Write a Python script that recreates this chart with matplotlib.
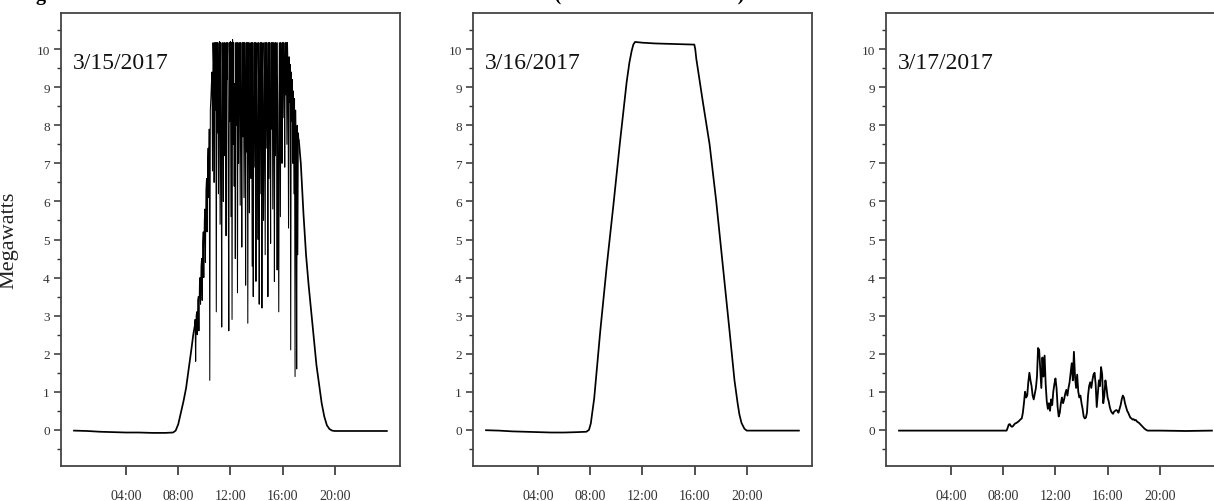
import numpy as np
import matplotlib.pyplot as plt

plt.rcParams['font.family'] = ['Liberation Serif', 'DejaVu Serif']

# ---- 3/15/2017 : clear ramps with heavy cloud spikes (hours, MW) ----
t15_am = [0, 1, 2, 3, 4, 5, 6, 7, 7.6, 7.8, 8.0, 8.2, 8.4, 8.6, 8.8, 9.0, 9.15]
v15_am = [-0.02, -0.03, -0.05, -0.06, -0.07, -0.07, -0.08, -0.08, -0.07, -0.02,
          0.15, 0.45, 0.75, 1.1, 1.6, 2.1, 2.5]
# 2.5-minute samples from 9:15 to 17:15
v15_mid = [
    2.7, 2.9, 1.8, 3.0, 3.1, 2.5, 3.4, 3.5, 2.6, 3.8, 4.0, 3.3,
    4.3, 4.5, 3.4, 4.9, 5.2, 4.0, 5.5, 5.8, 4.4, 6.3, 6.6, 5.2,
    7.0, 7.4, 6.1, 7.9, 1.3, 8.4, 8.7, 9.1, 9.4, 6.8, 10.17, 9.6,
    6.5, 10.17, 8.4, 10.17, 3.1, 10.17, 7.8, 10.17, 6.2, 9.0, 10.2, 5.4,
    10.17, 7.6, 2.7, 10.17, 8.9, 6.0, 10.17, 7.2, 10.17, 8.6, 5.1, 10.17,
    9.2, 10.17, 6.8, 2.6, 10.17, 8.1, 10.2, 5.6, 10.17, 2.9, 10.25, 7.5,
    10.17, 6.4, 9.1, 4.5, 10.17, 8.0, 10.17, 3.6, 10.17, 7.0, 9.5, 10.17,
    5.9, 10.17, 8.3, 4.8, 10.17, 7.7, 10.17, 6.1, 10.17, 8.9, 3.8, 10.17,
    7.3, 10.17, 2.8, 10.17, 8.6, 5.7, 10.17, 9.0, 6.6, 10.17, 4.3, 10.17,
    3.5, 8.2, 10.17, 6.9, 10.17, 3.9, 9.3, 10.17, 7.1, 5.0, 10.17, 3.3,
    8.8, 10.17, 6.2, 10.17, 3.2, 9.4, 10.17, 5.5, 8.1, 10.17, 4.6, 10.17,
    7.4, 10.17, 9.0, 3.5, 10.17, 6.6, 10.17, 8.4, 4.9, 10.17, 7.9, 10.17,
    5.8, 10.17, 8.7, 3.9, 10.17, 7.2, 10.17, 9.1, 4.2, 10.17, 6.4, 3.1,
    8.5, 10.17, 5.6, 10.17, 9.3, 7.0, 10.17, 8.2, 10.17, 9.6, 6.9, 10.17,
    8.8, 10.17, 7.5, 10.17, 9.5, 5.3, 9.8, 8.6, 9.6, 2.1, 9.4, 8.1,
    9.2, 7.0, 8.9, 6.2, 8.7, 1.4, 8.4, 7.2, 1.6, 8.0, 4.6, 7.8,
    7.6]
t15_pm = [17.4, 17.6, 17.8, 18.0, 18.2, 18.4, 18.6, 18.8, 19.0, 19.2, 19.4, 19.6,
          19.8, 20, 21, 22, 23, 24]
v15_pm = [7.0, 5.7, 4.6, 3.8, 3.1, 2.4, 1.7, 1.2, 0.7, 0.35, 0.12, 0.02,
          -0.02, -0.03, -0.03, -0.03, -0.03, -0.03]

# ---- 3/16/2017 : clear day ----
t16 = [0, 1, 2, 3, 4, 5, 6, 7, 7.7, 7.9, 8.04, 8.15, 8.3, 8.76, 9.27, 9.77,
       10.28, 10.79, 11.0, 11.17, 11.3, 11.43, 12, 13, 14, 15, 15.98, 16.05,
       16.13, 16.64, 17.15, 17.66, 18.17, 18.68, 19.06, 19.3, 19.44, 19.6,
       19.82, 20, 21, 22, 23, 24]
v16 = [-0.01, -0.02, -0.04, -0.05, -0.06, -0.07, -0.07, -0.06, -0.05, 0.0,
       0.17, 0.45, 0.83, 2.58, 4.33, 5.9, 7.57, 9.14, 9.65, 9.95, 10.12, 10.19,
       10.17, 10.15, 10.14, 10.13, 10.12, 10.0, 9.75, 8.6, 7.5, 6.0, 4.3, 2.6,
       1.3, 0.7, 0.4, 0.18, 0.03, -0.02, -0.02, -0.02, -0.02, -0.02]

# ---- 3/17/2017 : overcast ----
t17_night_am = [0, 2, 4, 6, 8]
v17_night_am = [-0.02, -0.02, -0.02, -0.02, -0.02]
# 5-minute samples from 8:15 to 19:10
v17_day = [
    -0.02, 0.05, 0.14, 0.15, 0.10, 0.08, 0.10, 0.14, 0.17, 0.18, 0.20, 0.22,
    0.25, 0.28, 0.30, 0.45, 0.70, 1.00, 0.85, 0.90, 1.25, 1.50, 1.30, 1.15,
    0.90, 0.80, 0.95, 1.10, 1.40, 2.15, 2.10, 1.60, 1.10, 1.90, 1.40, 1.95,
    1.20, 0.75, 0.55, 0.70, 0.50, 0.80, 0.65, 1.00, 1.20, 1.35, 1.10, 0.60,
    0.35, 0.45, 0.70, 0.85, 0.70, 0.80, 0.95, 1.05, 0.90, 1.10, 1.25, 1.50,
    1.75, 1.30, 2.05, 1.40, 1.10, 1.45, 1.00, 0.85, 0.90, 0.70, 0.55, 0.35,
    0.30, 0.32, 0.45, 0.90, 1.15, 1.25, 1.10, 1.30, 1.45, 1.50, 1.20, 0.60,
    0.95, 1.30, 1.15, 1.65, 1.45, 0.70, 0.90, 1.30, 1.10, 0.85, 0.75, 0.60,
    0.50, 0.45, 0.42, 0.48, 0.50, 0.52, 0.50, 0.45, 0.55, 0.65, 0.80, 0.90,
    0.85, 0.70, 0.60, 0.50, 0.45, 0.38, 0.32, 0.30, 0.27, 0.28, 0.25, 0.26,
    0.22, 0.20, 0.18, 0.15, 0.12, 0.09, 0.06, 0.03, 0.01, -0.01, -0.02, -0.02]
t17_night_pm = [20, 22, 24]
v17_night_pm = [-0.02, -0.03, -0.02]

t15_mid = 9.25 + np.arange(len(v15_mid)) / 24.0
t17_day = 8.25 + np.arange(len(v17_day)) / 12.0
t17 = np.concatenate([t17_night_am, t17_day, t17_night_pm])
v17 = np.concatenate([v17_night_am, v17_day, v17_night_pm])

# each panel: list of (times, values, linewidth) pieces
panels = [
    ('3/15/2017', [(t15_am + [t15_mid[0]], v15_am + [v15_mid[0]], 1.25),
                   (t15_mid, v15_mid, 0.75),
                   ([t15_mid[-1]] + t15_pm, [v15_mid[-1]] + v15_pm, 1.25)]),
    ('3/16/2017', [(t16, v16, 1.25)]),
    ('3/17/2017', [(t17, v17, 1.3)]),
]
lefts = [0.0502, 0.3896, 0.7298]

fig = plt.figure(figsize=(12.14, 5.02), dpi=100)
# figure caption, cropped at the top edge as in the source page
fig.text(0.0148, 1.0, 'Figure 5. Solar Farm Net Power at 1-Minute Time Resolution (March 15 to 17 2017)',
         fontsize=14.6, fontweight='bold', va='baseline', ha='left')

for i, (label, pieces) in enumerate(panels):
    ax = fig.add_axes([lefts[i], 0.0697, 0.2792, 0.9024])
    for t, v, lw in pieces:
        ax.plot(t, v, color='black', lw=lw, solid_joinstyle='round')
    ax.set_xlim(-1, 25)
    ax.set_ylim(-0.95, 10.95)
    ax.set_xticks([4, 8, 12, 16, 20])
    ax.set_xticklabels(['04:00', '08:00', '12:00', '16:00', '20:00'])
    ax.set_yticks(range(0, 11))
    ax.set_yticks(np.arange(-0.5, 11, 1.0), minor=True)
    ax.tick_params(axis='x', direction='out', length=6.5, width=1.2, pad=10,
                   labelsize=10, color='#333333', labelcolor='#333333')
    ax.tick_params(axis='y', which='major', direction='out', length=5, width=1.1,
                   labelsize=9.5, pad=3, color='#333333', labelcolor='#333333')
    ax.tick_params(axis='y', which='minor', direction='out', length=3, width=1.0,
                   color='#333333')
    for s in ax.spines.values():
        s.set_color('#444444')
        s.set_linewidth(1.3)
    ax.text(0.035, 0.914, label, transform=ax.transAxes, fontsize=17,
            va='top', ha='left', color='#111111')
    if i == 0:
        ax.set_ylabel('Megawatts', fontsize=16, color='#222222')
        ax.yaxis.set_label_coords(-0.125, 0.5)

fig.savefig('out.png', dpi=100)
